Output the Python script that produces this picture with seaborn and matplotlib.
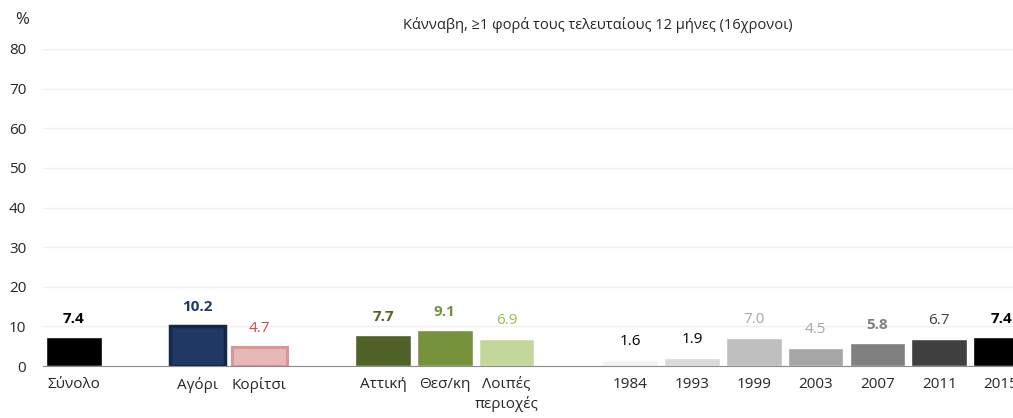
import matplotlib
matplotlib.use("Agg")
import matplotlib.pyplot as plt
import seaborn as sns
import numpy as np
import pandas as pd

# Data
categories = ['Σύνολο', ' ', 'Αγόρι', 'Κορίτσι', '  ', 'Αττική', 'Θεσ/κη', 'Λοιπές\nπεριοχές',
              '   ', '1984', '1993', '1999', '2003', '2007', '2011', '2015']
values = [7.4, np.nan, 10.2, 4.7, np.nan, 7.7, 9.1, 6.9, np.nan, 1.6, 1.9, 7.0, 4.5, 5.8, 6.7, 7.4]
bar_colors = ['#000000', '#ffffff', '#1f3864', '#e6b8b7', '#ffffff', '#4f6228', '#76933c', '#c4d79b',
              '#ffffff', '#f2f2f2', '#d9d9d9', '#bfbfbf', '#a6a6a6', '#808080', '#404040', '#000000']
label_colors = ['#000000', None, '#1f3864', '#c0504d', None, '#4f6228', '#76933c', '#9bbb59',
                None, '#000000', '#000000', '#a6a6a6', '#a6a6a6', '#808080', '#404040', '#000000']
label_bold = [True, False, True, False, False, True, True, False,
              False, False, False, False, False, True, False, True]
edge_colors = {'Αγόρι': '#14284a', 'Κορίτσι': '#da9694'}

df = pd.DataFrame({'cat': categories, 'val': values})

sns.set_style('white')
plt.rcParams['font.family'] = ['Open Sans', 'DejaVu Sans']

fig = plt.figure(figsize=(10.13, 4.18), dpi=100)
# axes extends past the right edge like the original (2015 bar clipped)
ax = fig.add_axes([43 / 1013, (418 - 366) / 418, 989 / 1013, (366 - 49) / 418])

sns.barplot(data=df, x='cat', y='val', hue='cat', palette=dict(zip(categories, bar_colors)),
            legend=False, width=0.9, ax=ax, saturation=1)

# outline the boys / girls bars (match patch by its centre position)
for p in ax.patches:
    idx = int(round(p.get_x() + p.get_width() / 2))
    cat = categories[idx]
    if cat in edge_colors:
        p.set_edgecolor(edge_colors[cat])
        p.set_linewidth(2.5 if cat == 'Αγόρι' else 2.2)

for i, (v, c, b) in enumerate(zip(values, label_colors, label_bold)):
    if np.isnan(v):
        continue
    ax.annotate(f'{v:.1f}', (i, v), xytext=(0, 8), textcoords='offset points',
                ha='center', va='bottom', color=c, fontsize=11,
                fontweight='bold' if b else 'normal')

ax.set_ylim(0, 80)
ax.set_xlim(-0.5, len(categories) - 0.5)
ax.set_yticks(range(0, 81, 10))
ax.yaxis.grid(True, color='#f0f0f0', linewidth=1)
ax.set_axisbelow(True)
for s in ['left', 'right', 'top']:
    ax.spines[s].set_visible(False)
ax.spines['bottom'].set_color('#8c8c8c')
ax.tick_params(axis='y', length=0, labelsize=11, pad=12)

ax.set_xticks(range(len(categories)))
ax.set_xticklabels(categories, fontsize=11, linespacing=1.3)
ax.tick_params(axis='x', which='major', length=0, pad=8)
ax.set_xticks(np.arange(-0.5, len(categories), 1), minor=True)
ax.tick_params(axis='x', which='minor', length=5, color='#8c8c8c', direction='out')
ax.set_xlabel('')
ax.set_ylabel('')

fig.text(22 / 1013, 1 - 20 / 418, '%', fontsize=12, ha='center', va='center')
fig.text(598 / 1013, 1 - 25 / 418, 'Κάνναβη, ≥1 φορά τους τελευταίους 12 μήνες (16χρονοι)',
         fontsize=10.5, ha='center', va='center')

fig.savefig('out.png', dpi=100)
